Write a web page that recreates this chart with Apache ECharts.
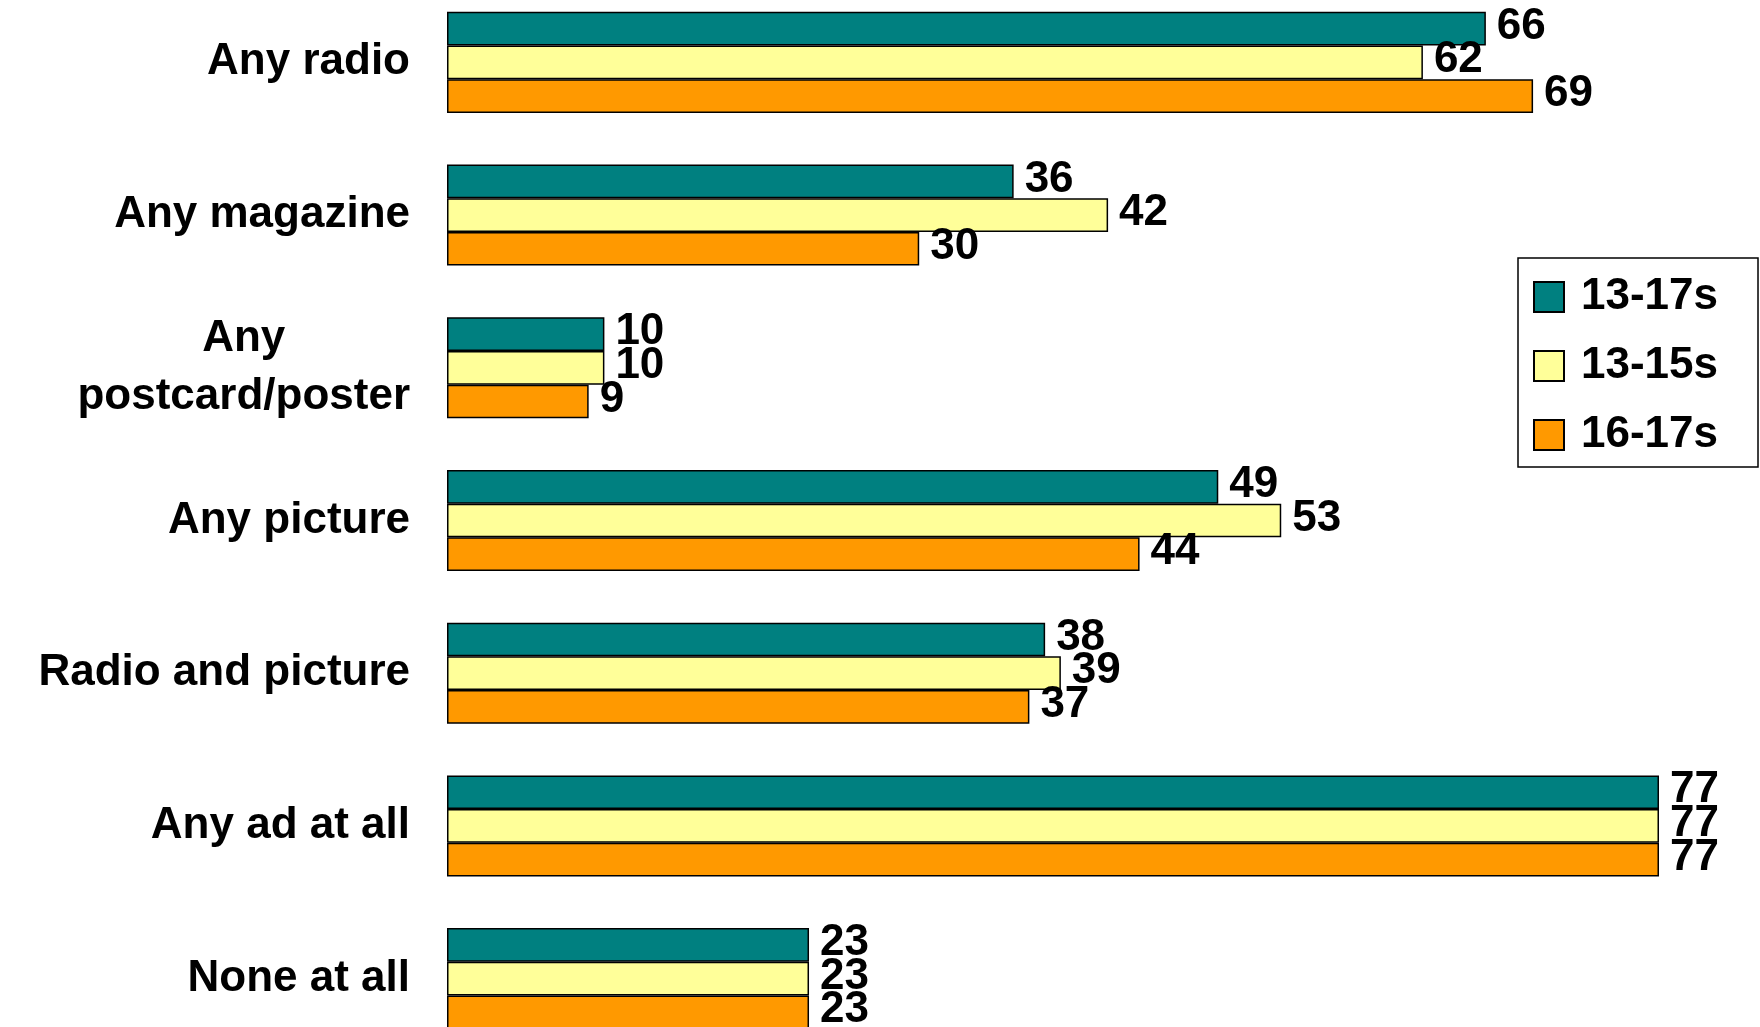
<!DOCTYPE html>
<html>
<head>
<meta charset="utf-8">
<script src="https://cdn.jsdelivr.net/npm/echarts@6/dist/echarts.min.js"></script>
<style>
html,body{margin:0;padding:0;background:#fff;overflow:hidden;}
#chart{position:absolute;left:0;top:-14px;width:1760px;height:1069px;}
</style>
</head>
<body>
<div id="chart"></div>
<script>
const categories = ['Any radio', 'Any magazine', 'Any\npostcard/poster', 'Any picture', 'Radio and picture', 'Any ad at all', 'None at all'];
const seriesNames = ['13-17s', '13-15s', '16-17s'];
const s1317 = [66, 36, 10, 49, 38, 77, 23];
const s1315 = [62, 42, 10, 53, 39, 77, 23];
const s1617 = [69, 30, 9, 44, 37, 77, 23];
const colors = ['#008080', '#FFFF99', '#FF9900'];

const chart = echarts.init(document.getElementById('chart'));
const font = '"Liberation Sans", Arial, sans-serif';
function mk(name, data, color) {
  return {
    name: name,
    type: 'bar',
    data: data,
    barWidth: 33.7,
    barGap: '0%',
    itemStyle: { color: color, borderColor: '#000', borderWidth: 1.5 },
    label: {
      show: true,
      position: 'right',
      distance: 11,
      color: '#000',
      fontFamily: font,
      fontWeight: 'bold',
      fontSize: 44,
      offset: [0, -2]
    }
  };
}
chart.setOption({
  animation: false,
  backgroundColor: '#fff',
  grid: { left: 447, right: 101, top: 0, bottom: 0 },
  xAxis: {
    type: 'value', min: 0, max: 77,
    axisLine: { show: false }, axisTick: { show: false },
    axisLabel: { show: false }, splitLine: { show: false }
  },
  yAxis: {
    type: 'category',
    data: categories,
    inverse: true,
    axisLine: { show: false },
    axisTick: { show: false },
    axisLabel: {
      margin: 37,
      color: '#000',
      fontFamily: font,
      fontWeight: 'bold',
      fontSize: 44,
      lineHeight: 58,
      formatter: function (v) {
        return v.split('\n').map(function (l) { return '{c|' + l + '}'; }).join('\n');
      },
      rich: { c: { align: 'center', fontFamily: font, fontWeight: 'bold', fontSize: 44, lineHeight: 58, color: '#000' } }
    }
  },
  legend: {
    orient: 'vertical',
    left: 1518,
    top: 272,
    data: seriesNames,
    backgroundColor: '#fff',
    borderColor: '#000',
    borderWidth: 1.5,
    padding: [17, 40, 10, 15],
    itemWidth: 30,
    itemHeight: 30,
    itemGap: 25,
    icon: 'rect',
    textStyle: { color: '#000', fontFamily: font, fontWeight: 'bold', fontSize: 44, lineHeight: 44, padding: [0, 0, 0, 12] }
  },
  series: [mk(seriesNames[0], s1317, colors[0]), mk(seriesNames[1], s1315, colors[1]), mk(seriesNames[2], s1617, colors[2])]
});
</script>
</body>
</html>
